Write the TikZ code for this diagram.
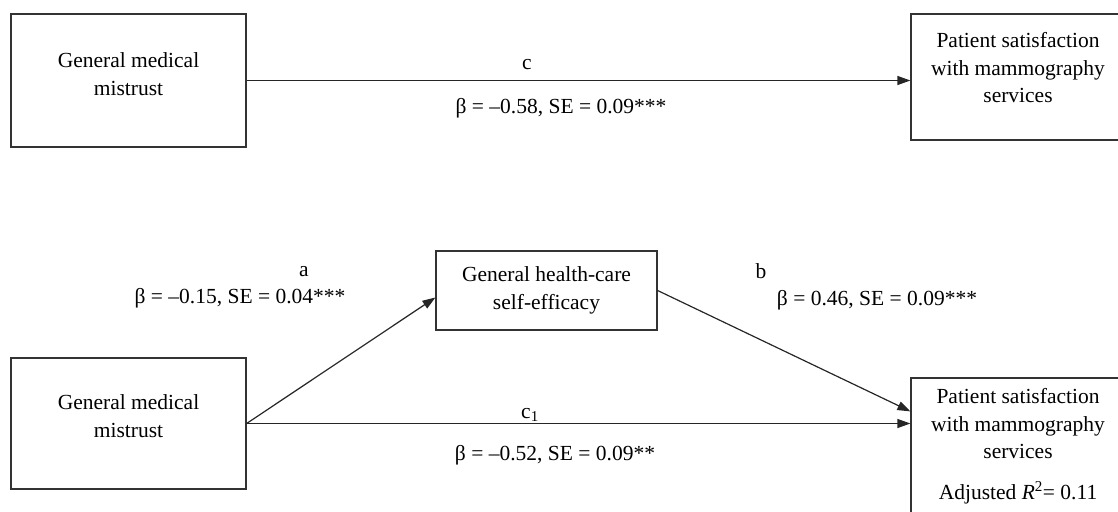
\documentclass[tikz,border=0pt]{standalone}
\usepackage{fontspec}
\setmainfont{Liberation Serif}
\usetikzlibrary{arrows.meta}

\begin{document}
\begin{tikzpicture}[x=1pt, y=-1pt,
  box/.style = {shape=rectangle, draw=black!80, line width=1.2pt, inner sep=0pt},
  boxtext/.style = {align=center, inner sep=0pt, font=\fontsize{21.5}{27.5}\selectfont},
  lbl/.style = {inner sep=0pt, font=\fontsize{21.5}{27.5}\selectfont},
  link/.style = {draw=black!85, line width=1.2pt, -{Triangle[length=13pt,width=9pt]}}]
  \clip (0,0) rectangle (1118,511);

  % total effect
  \node[box, minimum width=235pt, minimum height=133pt] (mtA) at (128.5,80.5) {};
  \node[boxtext] (mtAtext) at (128.5,74) {General medical\\mistrust};
  \node[box, minimum width=214pt, minimum height=126pt] (psA) at (1018,77) {};
  \node[boxtext] (psAtext) at (1018,68) {Patient satisfaction\\with mammography\\services};
  \draw[link] (mtA.east) -- (mtA.east -| psA.west);
  \node[lbl] (cname) at (527,65) {c};
  \node[lbl] (cbeta) at (561,108) {β = –0.58, SE = 0.09***};

  % mediation model
  \node[box, minimum width=235pt, minimum height=131pt] (mtB) at (128.5,423.5) {};
  \node[boxtext] (mtBtext) at (128.5,416) {General medical\\mistrust};
  \node[box, minimum width=221pt, minimum height=79pt] (se) at (546.5,290.5) {};
  \node[boxtext] (setext) at (se) {General health-care\\self-efficacy};
  \node[box, minimum width=214pt, minimum height=170pt] (psB) at (1018,463) {};
  \node[boxtext] (psBtext) at (1018,446) {Patient satisfaction\\with mammography\\services\\[13pt]Adjusted \textit{R}\textsuperscript{2}= 0.11};

  \draw[link] (mtB.east) -- ([yshift=-7pt]se.west);
  \draw[link] (se.east) -- ([yshift=-34pt]psB.north west);
  \draw[link] (mtB.east) -- (mtB.east -| psB.west);

  \node[lbl] (aname) at (304,272) {a};
  \node[lbl] (abeta) at (240,298) {β = –0.15, SE = 0.04***};
  \node[lbl] (bname) at (761,271) {b};
  \node[lbl] (bbeta) at (877,300) {β = 0.46, SE = 0.09***};
  \node[lbl] (cpname) at (530,415) {c\textsubscript{1}};
  \node[lbl] (cpbeta) at (555,455) {β = –0.52, SE = 0.09**};
\end{tikzpicture}
\end{document}
